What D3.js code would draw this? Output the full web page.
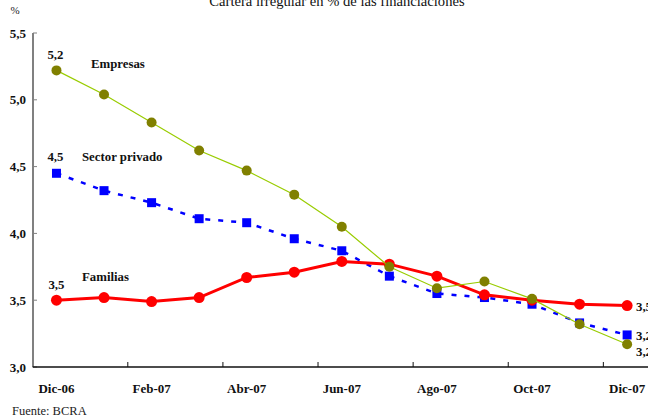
<!DOCTYPE html>
<html>
<head>
<meta charset="utf-8">
<script src="https://cdn.jsdelivr.net/npm/d3@7"></script>
<style>
  html, body { margin: 0; padding: 0; background: #fff; }
  svg { display: block; }
  text { font-family: "Liberation Serif", "Times New Roman", serif; }
</style>
</head>
<body>
<svg id="chart" width="648" height="420"></svg>
<script>
// Meses (dic-06 a dic-07)
const months = ["Dic-06","Ene-07","Feb-07","Mar-07","Abr-07","May-07","Jun-07",
                "Jul-07","Ago-07","Sep-07","Oct-07","Nov-07","Dic-07"];
const tickLabels = ["Dic-06","Feb-07","Abr-07","Jun-07","Ago-07","Oct-07","Dic-07"];
const yTicks = [3.0, 3.5, 4.0, 4.5, 5.0, 5.5];

// Cartera irregular (% de las financiaciones)
const empresas      = [5.22, 5.04, 4.83, 4.62, 4.47, 4.29, 4.05, 3.75, 3.59, 3.64, 3.51, 3.32, 3.17];
const sectorPrivado = [4.45, 4.32, 4.23, 4.11, 4.08, 3.96, 3.87, 3.68, 3.55, 3.52, 3.47, 3.33, 3.24];
const familias      = [3.50, 3.52, 3.49, 3.52, 3.67, 3.71, 3.79, 3.77, 3.68, 3.54, 3.50, 3.47, 3.46];

const svg = d3.select("#chart");
const fmt = v => d3.format(".1f")(v).replace(".", ",");

const x = d3.scaleBand().domain(months).range([32.7, 650.9]).padding(0);
const cx = m => x(m) + x.bandwidth() / 2;
const y = d3.scaleLinear().domain([3, 5.5]).range([367, 33]);

// Título
svg.append("text")
  .attr("x", 337).attr("y", 6)
  .attr("text-anchor", "middle")
  .attr("font-size", 14.6)
  .attr("fill", "#111")
  .text("Cartera irregular en % de las financiaciones");

svg.append("text")
  .attr("x", 15).attr("y", 14)
  .attr("text-anchor", "middle")
  .attr("font-size", 11)
  .attr("fill", "#222")
  .text("%");

// Eje Y
const yAxis = svg.append("g");
yAxis.append("line")
  .attr("x1", 33).attr("x2", 33)
  .attr("y1", y(5.5)).attr("y2", y(3))
  .attr("stroke", "#808080").attr("stroke-width", 2);
yAxis.selectAll("line.tick").data(yTicks).join("line")
  .attr("class", "tick")
  .attr("x1", 33).attr("x2", 37)
  .attr("y1", d => y(d)).attr("y2", d => y(d))
  .attr("stroke", "#808080").attr("stroke-width", 1);
yAxis.selectAll("text").data(yTicks).join("text")
  .attr("x", 26).attr("y", d => y(d))
  .attr("dy", "0.35em")
  .attr("text-anchor", "end")
  .attr("font-size", 13).attr("font-weight", "bold")
  .attr("fill", "#111")
  .text(fmt);

// Eje X
const xAxis = svg.append("g");
xAxis.append("line")
  .attr("x1", 32.7).attr("x2", 648)
  .attr("y1", y(3)).attr("y2", y(3))
  .attr("stroke", "#111").attr("stroke-width", 1.5);
xAxis.selectAll("line.tick").data(tickLabels.slice(1)).join("line")
  .attr("class", "tick")
  .attr("x1", d => x(d)).attr("x2", d => x(d))
  .attr("y1", y(3)).attr("y2", y(3) - 5)
  .attr("stroke", "#111").attr("stroke-width", 1);
xAxis.selectAll("text").data(tickLabels).join("text")
  .attr("x", d => cx(d)).attr("y", 393)
  .attr("text-anchor", "middle")
  .attr("font-size", 13).attr("font-weight", "bold")
  .attr("fill", "#111")
  .text(d => d);

// Series
const line = d3.line().x((d, i) => cx(months[i])).y(d => y(d));

// Sector privado: línea punteada azul con cuadrados
svg.append("path").datum(sectorPrivado)
  .attr("d", line)
  .attr("fill", "none")
  .attr("stroke", "#0000ff").attr("stroke-width", 2.5)
  .attr("stroke-dasharray", "5,8");
svg.append("g").selectAll("rect").data(sectorPrivado).join("rect")
  .attr("x", (d, i) => cx(months[i]) - 4.5)
  .attr("y", d => y(d) - 4.5)
  .attr("width", 9).attr("height", 9)
  .attr("fill", "#0000ff");

// Familias: línea roja con círculos
svg.append("path").datum(familias)
  .attr("d", line)
  .attr("fill", "none")
  .attr("stroke", "#ff0000").attr("stroke-width", 3);
svg.append("g").selectAll("circle").data(familias).join("circle")
  .attr("cx", (d, i) => cx(months[i]))
  .attr("cy", d => y(d))
  .attr("r", 5.5)
  .attr("fill", "#ff0000");

// Empresas: línea verde fina con círculos oliva
svg.append("path").datum(empresas)
  .attr("d", line)
  .attr("fill", "none")
  .attr("stroke", "#99cc00").attr("stroke-width", 1.2);
svg.append("g").selectAll("circle").data(empresas).join("circle")
  .attr("cx", (d, i) => cx(months[i]))
  .attr("cy", d => y(d))
  .attr("r", 5)
  .attr("fill", "#808000");

// Etiquetas de series
const lab = (t, xx, yy, anchor) => svg.append("text")
  .attr("x", xx).attr("y", yy).attr("dy", "0.35em")
  .attr("text-anchor", anchor || "start")
  .attr("font-size", 12.8).attr("font-weight", "bold")
  .attr("fill", "#111")
  .text(t);

lab("Empresas", 91, 64);
lab("Sector privado", 82, 157);
lab("Familias", 82, 277);

// Valores inicial y final
const first = months[0], last = months[months.length - 1];
lab(fmt(empresas[0]), cx(first) - 1, y(empresas[0]) - 16, "middle");
lab(fmt(sectorPrivado[0]), cx(first) - 1, y(sectorPrivado[0]) - 17, "middle");
lab(fmt(familias[0]), cx(first), y(familias[0]) - 16, "middle");

lab(fmt(familias[12]), 636, y(familias[12]) + 1);
lab(fmt(sectorPrivado[12]), 636, y(sectorPrivado[12]) + 1);
lab(fmt(empresas[12]), 636, y(empresas[12]) + 7);

// Fuente
svg.append("text")
  .attr("x", 12).attr("y", 415)
  .attr("font-size", 12.5)
  .attr("fill", "#222")
  .text("Fuente: BCRA");
</script>
</body>
</html>
